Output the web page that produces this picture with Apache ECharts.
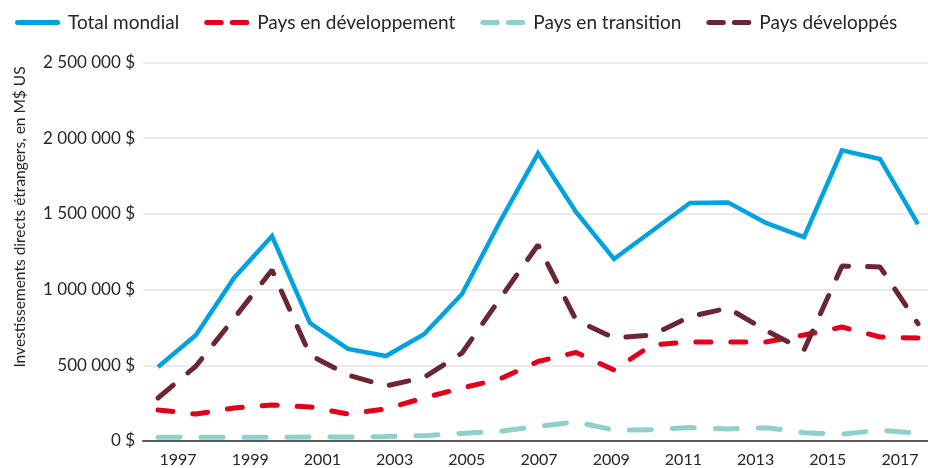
<!DOCTYPE html>
<html>
<head>
<meta charset="utf-8">
<script src="https://cdn.jsdelivr.net/npm/echarts@6/dist/echarts.min.js"></script>
<style>
  html, body { margin: 0; padding: 0; background: #fff; }
  #chart { width: 928px; height: 468px; }
</style>
</head>
<body>
<div id="chart"></div>
<script>
'use strict';
// years and values (M$ US)
var years = [1997, 1998, 1999, 2000, 2001, 2002, 2003, 2004, 2005, 2006, 2007,
             2008, 2009, 2010, 2011, 2012, 2013, 2014, 2015, 2016, 2017];
var totalMondial = [489000, 700000, 1077000, 1354000, 779000, 608000, 561000, 705000, 971000, 1450000, 1900000,
                    1513000, 1202000, 1387000, 1572000, 1576000, 1440000, 1347000, 1920000, 1863000, 1433000];
var paysDeveloppement = [205000, 178000, 218000, 238000, 225000, 178000, 212000, 285000, 350000, 410000, 525000,
                         585000, 469000, 635000, 654000, 654000, 654000, 700000, 753000, 687000, 680000];
var paysTransition = [25000, 24000, 24000, 24000, 26000, 26000, 30000, 35000, 50000, 65000, 95000,
                      127000, 72000, 75000, 89000, 80000, 88000, 55000, 45000, 72000, 50000];
var paysDeveloppes = [284000, 495000, 810000, 1129000, 568000, 436000, 363000, 420000, 581000, 940000, 1295000,
                      800000, 680000, 700000, 822000, 878000, 730000, 601000, 1156000, 1150000, 775000];
var yTicks = [0, 500000, 1000000, 1500000, 2000000, 2500000];

var font = 'Lato';
var dashIcon = 'path://M2.5,0H17A2.5,2.5,0,0,1,17,5H2.5A2.5,2.5,0,0,1,2.5,0Z' +
               'M28,0H42.5A2.5,2.5,0,0,1,42.5,5H28A2.5,2.5,0,0,1,28,0Z';
var solidIcon = 'path://M2.5,0H42.5A2.5,2.5,0,0,1,42.5,5H2.5A2.5,2.5,0,0,1,2.5,0Z';

function pairs(vals) {
	return years.map(function(y, i) { return [y, vals[i]]; });
}
function money(v) {
	return String(v).replace(/\B(?=(\d{3})+(?!\d))/g, ' ') + ' $';
}

var option = {
	animation: false,
	textStyle: { fontFamily: font },
	legend: {
		left: 10,
		top: 8,
		itemWidth: 45,
		itemHeight: 5,
		itemGap: 25,
		textStyle: { fontFamily: font, fontSize: 19, color: '#262626', padding: [0, 0, 0, 3] },
		data: [
			{ name: 'Total mondial', icon: solidIcon },
			{ name: 'Pays en développement', icon: dashIcon },
			{ name: 'Pays en transition', icon: dashIcon },
			{ name: 'Pays développés', icon: dashIcon }
		]
	},
	graphic: [{
		type: 'text',
		x: 20,
		y: 217,
		rotation: Math.PI / 2,
		style: {
			text: 'Investissements directs étrangers, en M$ US',
			font: '15.5px Lato',
			fill: '#262626',
			align: 'center',
			verticalAlign: 'middle'
		}
	}],
	grid: [
		{ left: 143, right: 0, top: 62.5, bottom: 27 },
		{ left: 178, right: 28, top: 62.5, bottom: 27 }
	],
	xAxis: [{
		type: 'value',
		gridIndex: 0,
		min: 1996.6053,
		max: 2017.2632,
		axisLine: { show: true, onZero: false, lineStyle: { color: '#595959', width: 2 } },
		axisTick: { show: false },
		axisLabel: { show: false },
		splitLine: { show: false }
	}, {
		type: 'category',
		gridIndex: 1,
		boundaryGap: false,
		data: years,
		axisLine: { show: false },
		axisTick: { show: false },
		axisLabel: { interval: 1, margin: 12, fontFamily: font, fontSize: 16, color: '#262626' }
	}],
	yAxis: [{
		type: 'value',
		gridIndex: 0,
		min: yTicks[0],
		max: yTicks[yTicks.length - 1],
		interval: 500000,
		axisLine: { show: false },
		axisTick: { show: false },
		axisLabel: { margin: 8, fontFamily: font, fontSize: 17, color: '#262626', formatter: money },
		splitLine: { lineStyle: { color: '#e3e3e3', width: 1.5 } }
	}, {
		type: 'value',
		gridIndex: 1,
		show: false,
		min: 0,
		max: 2500000
	}],
	series: [{
		name: 'Total mondial',
		type: 'line',
		data: pairs(totalMondial),
		symbol: 'none',
		itemStyle: { color: '#00a3e0' },
		lineStyle: { color: '#00a3e0', width: 4.5, join: 'miter' }
	}, {
		name: 'Pays en développement',
		type: 'line',
		data: pairs(paysDeveloppement),
		symbol: 'none',
		itemStyle: { color: '#e3001b' },
		lineStyle: { color: '#e3001b', width: 5, type: [15, 20], cap: 'round' }
	}, {
		name: 'Pays en transition',
		type: 'line',
		data: pairs(paysTransition),
		symbol: 'none',
		itemStyle: { color: '#8fd0cc' },
		lineStyle: { color: '#8fd0cc', width: 5, type: [22, 21], cap: 'round' }
	}, {
		name: 'Pays développés',
		type: 'line',
		data: pairs(paysDeveloppes),
		symbol: 'none',
		itemStyle: { color: '#6b2731' },
		lineStyle: { color: '#6b2731', width: 5, type: [20, 19], cap: 'round' }
	}]
};

var myChart = echarts.init(document.getElementById('chart'));
myChart.setOption(option);
</script>
</body>
</html>
